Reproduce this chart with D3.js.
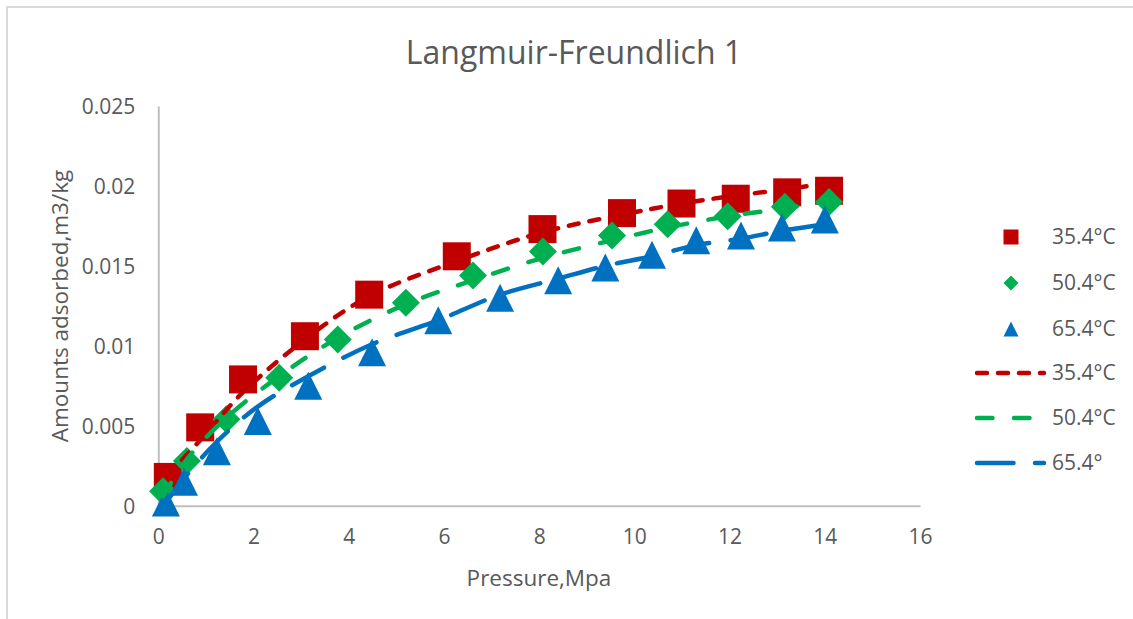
<!DOCTYPE html>
<html>
<head>
<meta charset="utf-8">
<script src="https://cdn.jsdelivr.net/npm/d3@7"></script>
<style>
  html, body { margin: 0; padding: 0; background: #ffffff; }
  svg { display: block; }
  text { font-family: "Open Sans", "Noto Sans", sans-serif; fill: #595959; }
</style>
</head>
<body>
<svg id="chart" width="1133" height="619"></svg>
<script>
// Measured adsorption (pressure in MPa, amount in m3/kg)
const pressure35 = [0.20, 0.88, 1.78, 3.08, 4.43, 6.27, 8.07, 9.74, 10.99, 12.13, 13.21, 14.09];
const amount35   = [0.0018, 0.0049, 0.0079, 0.0106, 0.0132, 0.0156, 0.0173, 0.0183, 0.0189, 0.0192, 0.0196, 0.0197];
const pressure50 = [0.10, 0.60, 1.43, 2.54, 3.77, 5.20, 6.61, 8.08, 9.53, 10.70, 11.96, 13.16, 14.09];
const amount50   = [0.0009, 0.0028, 0.0054, 0.0080, 0.0104, 0.0127, 0.0144, 0.0159, 0.0169, 0.0176, 0.0181, 0.0187, 0.0190];
const pressure65 = [0.16, 0.54, 1.23, 2.09, 3.15, 4.49, 5.88, 7.18, 8.40, 9.39, 10.37, 11.30, 12.24, 13.10, 14.00];
const amount65   = [0.0002, 0.0015, 0.0034, 0.0053, 0.0075, 0.0096, 0.0116, 0.0130, 0.0141, 0.0149, 0.0157, 0.0166, 0.0169, 0.0174, 0.0179];

// Langmuir-Freundlich fitted values at the same pressures
const fit35 = [0.0019, 0.0041, 0.0071, 0.0104, 0.0131, 0.0153, 0.0171, 0.0182, 0.0189, 0.0194, 0.0198, 0.0202];
const fit50 = [0.0006, 0.0029, 0.0055, 0.0081, 0.0105, 0.0126, 0.0141, 0.0155, 0.0166, 0.0174, 0.0181, 0.0186, 0.0191];
const fit65 = [0.0002, 0.0017, 0.0040, 0.0062, 0.0081, 0.0101, 0.0116, 0.0132, 0.0142, 0.0150, 0.0156, 0.0163, 0.0167, 0.0172, 0.0176];

const xTicks = [0, 2, 4, 6, 8, 10, 12, 14, 16];
const yTicks = [0, 0.005, 0.01, 0.015, 0.02, 0.025];
const yTickLabels = ["0", "0.005", "0.01", "0.015", "0.02", "0.025"];

const titleText = "Langmuir-Freundlich 1";
const xTitle = "Pressure,Mpa";
const yTitle = "Amounts adsorbed,m3/kg";
const seriesNames = ["35.4°C", "50.4°C", "65.4°C"];
const fitNames = ["35.4°C", "50.4°C", "65.4°"];

const colors = ["#C00000", "#00B050", "#0070C0"];
const shapes = ["square", "diamond", "triangle"];
const dashes = ["10 11", "15.5 21.5", "36.5 21.5"];

const svg = d3.select("#chart");

// chart area frame
svg.append("rect")
  .attr("x", 7).attr("y", 7)
  .attr("width", 1200).attr("height", 700)
  .attr("fill", "none").attr("stroke", "#d9d9d9").attr("stroke-width", 2);

const x = d3.scaleLinear().domain([0, 16]).range([158.3, 920]);
const y = d3.scaleLinear().domain([0, 0.025]).range([505.7, 106]);

// marker outlines, r = half width
function markerPath(shape, r) {
  const p = d3.path();
  if (shape === "square") {
    p.rect(-r, -r, 2 * r, 2 * r);
  } else if (shape === "diamond") {
    p.moveTo(0, -r); p.lineTo(r, 0); p.lineTo(0, r); p.lineTo(-r, 0); p.closePath();
  } else {
    p.moveTo(0, -r); p.lineTo(r, r); p.lineTo(-r, r); p.closePath();
  }
  return p.toString();
}

// axes
const xAxis = d3.axisBottom(x).tickValues(xTicks).tickSize(0).tickPadding(23.5)
  .tickFormat(d3.format("d"));
const yAxis = d3.axisLeft(y).tickValues(yTicks).tickSize(0).tickPadding(23)
  .tickFormat((d, i) => yTickLabels[i]);

const gx = svg.append("g").attr("transform", `translate(0,${y(0)})`).call(xAxis);
const gy = svg.append("g").attr("transform", `translate(${x(0)},0)`).call(yAxis);
[gx, gy].forEach(g => {
  g.select(".domain").attr("stroke", "#bfbfbf").attr("stroke-width", 2);
  g.selectAll("text").attr("font-size", 21).attr("fill", "#595959")
    .style("font-family", '"Open Sans", sans-serif');
});
gy.selectAll("text").attr("dy", "0.35em");

// measured points
const measured = [
  { xs: pressure35, ys: amount35 },
  { xs: pressure50, ys: amount50 },
  { xs: pressure65, ys: amount65 }
];
measured.forEach((s, k) => {
  svg.append("g").selectAll("path")
    .data(s.xs.map((v, i) => [v, s.ys[i]]))
    .join("path")
    .attr("d", markerPath(shapes[k], 14))
    .attr("transform", d => `translate(${x(d[0])},${y(d[1])})`)
    .attr("fill", colors[k]);
});

// fitted curves
const fits = [
  { xs: pressure35, ys: fit35 },
  { xs: pressure50, ys: fit50 },
  { xs: pressure65, ys: fit65 }
];
const line = d3.line().x(d => x(d[0])).y(d => y(d[1])).curve(d3.curveCatmullRom.alpha(0.5));
fits.forEach((s, k) => {
  svg.append("path")
    .datum(s.xs.map((v, i) => [v, s.ys[i]]))
    .attr("d", line)
    .attr("fill", "none")
    .attr("stroke", colors[k])
    .attr("stroke-width", 4.5)
    .attr("stroke-linecap", "round")
    .attr("stroke-dasharray", dashes[k]);
});

// legend
const legend = svg.append("g");
const rowY = [237, 283, 329, 373, 418, 463];
seriesNames.forEach((name, k) => {
  legend.append("path")
    .attr("d", markerPath(shapes[k], 7.5))
    .attr("transform", `translate(1011,${rowY[k]})`)
    .attr("fill", colors[k]);
  legend.append("text").attr("x", 1052).attr("y", rowY[k]).attr("dy", "0.35em")
    .attr("font-size", 21).text(name);
});
fitNames.forEach((name, k) => {
  const yy = rowY[k + 3];
  legend.append("line")
    .attr("x1", 977).attr("x2", 1044).attr("y1", yy).attr("y2", yy)
    .attr("stroke", colors[k]).attr("stroke-width", 4.5)
    .attr("stroke-linecap", "round")
    .attr("stroke-dasharray", dashes[k]);
  legend.append("text").attr("x", 1052).attr("y", yy).attr("dy", "0.35em")
    .attr("font-size", 21).text(name);
});

// titles
svg.append("text").attr("x", 574).attr("y", 64).attr("text-anchor", "middle")
  .attr("font-size", 32).text(titleText);
svg.append("text").attr("x", 539).attr("y", 586).attr("text-anchor", "middle")
  .attr("font-size", 22.5).text(xTitle);
svg.append("text")
  .attr("transform", "translate(68,306) rotate(-90)")
  .attr("text-anchor", "middle")
  .attr("font-size", 22.5).text(yTitle);
</script>
</body>
</html>
